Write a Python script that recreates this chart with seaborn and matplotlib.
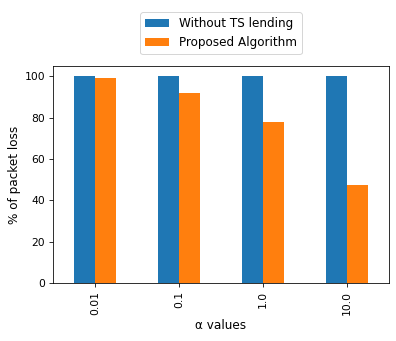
import numpy as np
import matplotlib
matplotlib.use("Agg")
import matplotlib.pyplot as plt
import seaborn as sns
import pandas as pd

alphas = ["0.01", "0.1", "1.0", "10.0"]
without_ts = [100, 100, 100, 100]
proposed = [99.0, 91.8, 77.8, 47.3]

df = pd.DataFrame({
    "alpha": alphas * 2,
    "loss": without_ts + proposed,
    "method": ["Without TS lending"] * 4 + ["Proposed Algorithm"] * 4,
})

fig = plt.figure(figsize=(396 / 72, 341 / 72), dpi=72)
ax = fig.add_axes([53 / 396, 58 / 341, 336 / 396, 217 / 341])

sns.barplot(data=df, x="alpha", y="loss", hue="method", width=0.5,
            palette=["#1f77b4", "#ff7f0e"], saturation=1, ax=ax)

ax.set_xlim(-0.5, 3.5)
ax.set_ylim(0, 105)
ax.set_xlabel("α values", fontsize=12)
ax.set_ylabel("% of packet loss", fontsize=12)
ax.tick_params(labelsize=10.8, length=4.2)
plt.setp(ax.get_xticklabels(), rotation=90)
ax.legend(loc="upper center", bbox_to_anchor=(0.5, 1.275), ncol=1,
          fontsize=12)

fig.savefig("out.png", dpi=72)
